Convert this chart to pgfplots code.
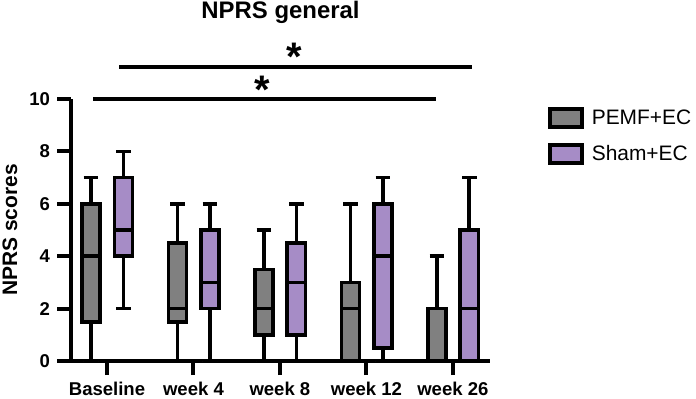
\documentclass[border=0pt]{standalone}
\usepackage{fontspec}
\setmainfont{Liberation Sans}
\usepackage{pgfplots}
\usepgfplotslibrary{statistics}
\pgfplotsset{compat=1.18}
\definecolor{pemf}{RGB}{128,128,128}
\definecolor{sham}{RGB}{166,140,198}
\pgfplotsset{
  bx/.style={draw=black, line width=1.8bp, solid, forget plot},
}
\begin{document}
\begin{tikzpicture}
\begin{axis}[
  scale only axis, width=209.5bp, height=131bp,
  xmin=-0.416, xmax=4.43, ymin=0, ymax=10,
  clip=false,
  boxplot/draw direction=y,
  axis lines*=left,
  axis line style={line width=2bp, black},
  tick style={line width=2bp, black},
  tick align=outside,
  major tick length=7bp,
  xtick={0,1,2,3,4},
  xticklabels={Baseline,week 4,week 8,week 12,week 26},
  ytick={0,2,4,6,8,10},
  ticklabel style={font=\fontsize{9.3}{11}\selectfont\bfseries},
  /pgf/number format/assume math mode=true,
  ylabel={NPRS scores},
  ylabel style={font=\fontsize{10.5}{12}\selectfont\bfseries, at={(axis description cs:-0.146,0.5)}, anchor=center},
  legend style={at={(axis description cs:1.138,0.977)}, anchor=north west, draw=none, fill=none,
    font=\fontsize{10.5}{12}\selectfont, inner sep=0pt, row sep=5bp, column sep=2bp},
  legend cell align=left,
]
% PEMF+EC
\addplot[bx, fill=pemf, boxplot prepared={draw position=-0.185, box extend=0.21,
  lower whisker=0, lower quartile=1.5, median=4, upper quartile=6, upper whisker=7}] coordinates {};
\addplot[bx, fill=pemf, boxplot prepared={draw position=0.815, box extend=0.21,
  lower whisker=0, lower quartile=1.5, median=2, upper quartile=4.5, upper whisker=6}] coordinates {};
\addplot[bx, fill=pemf, boxplot prepared={draw position=1.815, box extend=0.21,
  lower whisker=0, lower quartile=1, median=2, upper quartile=3.5, upper whisker=5}] coordinates {};
\addplot[bx, fill=pemf, boxplot prepared={draw position=2.815, box extend=0.21,
  lower whisker=0, lower quartile=0, median=2, upper quartile=3, upper whisker=6}] coordinates {};
\addplot[bx, fill=pemf, boxplot prepared={draw position=3.815, box extend=0.21,
  lower whisker=0, lower quartile=0, median=2, upper quartile=2, upper whisker=4}] coordinates {};
% Sham+EC
\addplot[bx, fill=sham, boxplot prepared={draw position=0.19, box extend=0.21,
  lower whisker=2, lower quartile=4, median=5, upper quartile=7, upper whisker=8}] coordinates {};
\addplot[bx, fill=sham, boxplot prepared={draw position=1.19, box extend=0.21,
  lower whisker=0, lower quartile=2, median=3, upper quartile=5, upper whisker=6}] coordinates {};
\addplot[bx, fill=sham, boxplot prepared={draw position=2.19, box extend=0.21,
  lower whisker=0, lower quartile=1, median=3, upper quartile=4.5, upper whisker=6}] coordinates {};
\addplot[bx, fill=sham, boxplot prepared={draw position=3.19, box extend=0.21,
  lower whisker=0, lower quartile=0.5, median=4, upper quartile=6, upper whisker=7}] coordinates {};
\addplot[bx, fill=sham, boxplot prepared={draw position=4.19, box extend=0.21,
  lower whisker=0, lower quartile=0, median=2, upper quartile=5, upper whisker=7}] coordinates {};
% significance bars
\addplot[black, line width=2bp, forget plot] coordinates {(-0.16,10) (3.81,10)};
\addplot[black, line width=2bp, forget plot] coordinates {(0.14,11.22) (4.22,11.22)};
\node[font=\fontsize{20}{20}\selectfont\bfseries, anchor=center] at (axis cs:1.80,10.37) {*};
\node[font=\fontsize{20}{20}\selectfont\bfseries, anchor=center] at (axis cs:2.17,11.6) {*};
% title
\node[font=\fontsize{12}{14}\selectfont\bfseries, anchor=center] at (axis description cs:0.5,1.332) {NPRS general};
% legend
\addlegendimage{legend image code/.code={\draw[fill=pemf, draw=black, line width=1.8bp] (0bp,-4.5bp) rectangle (16bp,4.5bp);}}
\addlegendentry{PEMF+EC}
\addlegendimage{legend image code/.code={\draw[fill=sham, draw=black, line width=1.8bp] (0bp,-4.5bp) rectangle (16bp,4.5bp);}}
\addlegendentry{Sham+EC}
\coordinate (BL) at (axis description cs:-0.1695,-0.1412);
\coordinate (TR) at (axis description cs:1.4916,1.3779);
\end{axis}
\pgfresetboundingbox
\path[use as bounding box] (BL) rectangle (TR);
\end{tikzpicture}
\end{document}
